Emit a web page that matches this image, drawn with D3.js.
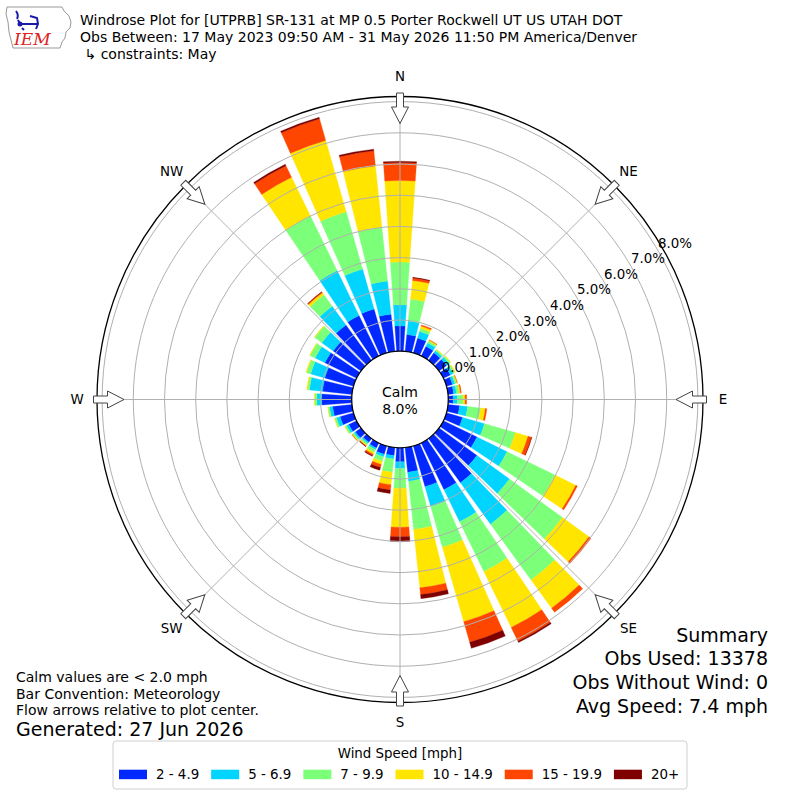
<!DOCTYPE html>
<html lang="en">
<head>
<meta charset="UTF-8">
<title>Windrose Plot</title>
<script src="https://d3js.org/d3.v7.min.js"></script>
<style>
  body { margin: 0; background: #fff; }
  svg text { font-family: "DejaVu Sans", sans-serif; fill: #000; }
</style>
</head>
<body>
<svg id="chart" width="800" height="800"></svg>
<script>
// direction bins (degrees, meteorological) and speed bins
const directions = d3.range(0, 360, 10);
const speedBins = ["2 - 4.9", "5 - 6.9", "7 - 9.9", "10 - 14.9", "15 - 19.9", "20+"];

const spd2to5 = [0.81, 0.55, 0.50, 0.35, 0.30, 0.30, 0.25, 0.20, 0.18, 0.16, 0.37, 0.54,
                 1.20, 1.50, 1.75, 1.67, 1.36, 0.80, 0.45, 0.26, 0.28, 0.18, 0.15, 0.22,
                 0.28, 0.45, 0.62, 0.96, 0.95, 0.96, 1.13, 1.10, 1.40, 1.45, 1.47, 1.20];
const spd5to7 = [0.68, 0.43, 0.22, 0.12, 0.08, 0.10, 0.10, 0.08, 0.09, 0.13, 0.26, 0.73,
                 1.07, 1.29, 1.64, 1.14, 0.66, 0.29, 0.21, 0.11, 0.08, 0.06, 0.05, 0.06,
                 0.08, 0.12, 0.10, 0.16, 0.42, 0.47, 0.35, 0.45, 0.75, 1.60, 1.33, 1.07];
const spd7to10 = [1.37, 0.71, 0.10, 0.07, 0.04, 0.05, 0.06, 0.06, 0.09, 0.19, 0.42, 1.03,
                  1.71, 2.10, 2.21, 1.78, 1.36, 1.55, 0.64, 0.43, 0.15, 0.10, 0.06, 0.05,
                  0.05, 0.06, 0.05, 0.06, 0.06, 0.14, 0.18, 0.28, 0.45, 1.95, 1.91, 1.73];
const spd10to15 = [2.61, 0.60, 0.08, 0.03, 0.02, 0.02, 0.02, 0.02, 0.04, 0.06, 0.15, 0.42,
                   0.74, 1.05, 1.12, 1.99, 2.48, 1.88, 1.25, 0.40, 0.11, 0.06, 0.03, 0.02,
                   0.01, 0.01, 0.01, 0.02, 0.03, 0.02, 0.02, 0.02, 0.08, 1.38, 2.38, 1.98];
const spd15to20 = [0.58, 0.08, 0.04, 0.01, 0.00, 0.00, 0.00, 0.01, 0.03, 0.05, 0.05, 0.12,
                   0.06, 0.08, 0.16, 0.49, 0.69, 0.22, 0.30, 0.17, 0.10, 0.05, 0.02, 0.01,
                   0.00, 0.00, 0.00, 0.00, 0.00, 0.00, 0.00, 0.00, 0.03, 0.41, 0.72, 0.49];
const spd20plus = [0.04, 0.02, 0.00, 0.00, 0.00, 0.00, 0.00, 0.00, 0.00, 0.00, 0.00, 0.01,
                   0.00, 0.00, 0.00, 0.05, 0.20, 0.13, 0.16, 0.11, 0.09, 0.03, 0.01, 0.00,
                   0.00, 0.00, 0.00, 0.00, 0.00, 0.00, 0.00, 0.00, 0.01, 0.05, 0.05, 0.05];

const ringTicks = [0, 1, 2, 3, 4, 5, 6, 7, 8];
const compassLabels = ["N", "NE", "E", "SE", "S", "SW", "W", "NW"];
const calmPct = 8.0;

const titleLines = [
    "Windrose Plot for [UTPRB] SR-131 at MP 0.5 Porter Rockwell UT US UTAH DOT",
    "Obs Between: 17 May 2023 09:50 AM - 31 May 2026 11:50 PM America/Denver",
    " \u21b3 constraints: May"
];
const noteLines = ["Calm values are < 2.0 mph", "Bar Convention: Meteorology", "Flow arrows relative to plot center."];
const generatedText = "Generated: 27 Jun 2026";
const summaryLines = ["Summary", "Obs Used: 13378", "Obs Without Wind: 0", "Avg Speed: 7.4 mph"];

const colors = ["#0028ff", "#00d4ff", "#7cff79", "#ffe500", "#ff4600", "#7f0000"];

const series = [spd2to5, spd5to7, spd7to10, spd10to15, spd15to20, spd20plus];
const rows = directions.map((dir, i) => {
    const row = { dir: dir };
    speedBins.forEach((b, j) => row[b] = series[j][i]);
    return row;
});
const stacked = d3.stack().keys(speedBins)(rows);

const svg = d3.select("#chart");
const cx = 400, cy = 399.5, outerR = 303;
const rScale = d3.scaleLinear().domain([0, 8]).range([48.3, 297.9]);
const rad = d => d * Math.PI / 180;
const halfWidth = rad(4);

const plot = svg.append("g").attr("transform", `translate(${cx},${cy})`);
const arc = d3.arc();

// stacked bars
plot.selectAll("g.layer")
    .data(stacked)
    .join("g")
    .attr("class", "layer")
    .attr("fill", (d, i) => colors[i])
    .attr("stroke", (d, i) => colors[i])
    .attr("stroke-width", 0.3)
    .selectAll("path")
    .data(d => d.filter(s => s[1] - s[0] > 0))
    .join("path")
    .attr("d", s => arc({
        innerRadius: rScale(s[0]),
        outerRadius: rScale(s[1]),
        startAngle: rad(s.data.dir) - halfWidth,
        endAngle: rad(s.data.dir) + halfWidth
    }));

// grid on top of the bars
plot.selectAll("circle.ring")
    .data(ringTicks.slice(1))
    .join("circle")
    .attr("class", "ring")
    .attr("r", d => rScale(d))
    .attr("fill", "none")
    .attr("stroke", "#b0b0b0")
    .attr("stroke-width", 1);

plot.selectAll("line.spoke")
    .data(d3.range(0, 360, 45))
    .join("line")
    .attr("class", "spoke")
    .attr("x1", d => rScale(0) * Math.sin(rad(d)))
    .attr("y1", d => -rScale(0) * Math.cos(rad(d)))
    .attr("x2", d => outerR * Math.sin(rad(d)))
    .attr("y2", d => -outerR * Math.cos(rad(d)))
    .attr("stroke", "#b0b0b0")
    .attr("stroke-width", 1);

plot.append("circle")
    .attr("r", outerR)
    .attr("fill", "none")
    .attr("stroke", "#000")
    .attr("stroke-width", 1.3);

// calm circle
plot.append("circle")
    .attr("r", rScale(0))
    .attr("fill", "#fff")
    .attr("stroke", "#000")
    .attr("stroke-width", 1.3);
plot.append("text").attr("y", -3).attr("text-anchor", "middle")
    .style("font-size", "14px").text("Calm");
plot.append("text").attr("y", 14).attr("text-anchor", "middle")
    .style("font-size", "14px").text(d3.format(".1f")(calmPct) + "%");

// radial tick labels
const labelAngle = rad(60);
plot.selectAll("text.rtick")
    .data(ringTicks)
    .join("text")
    .attr("class", "rtick")
    .attr("x", d => rScale(d) * Math.sin(labelAngle))
    .attr("y", d => -rScale(d) * Math.cos(labelAngle) - 3)
    .style("font-size", "13.4px")
    .text(d => d3.format(".1f")(d) + "%");

// flow arrows pointing at the centre
const arrowShape = [[306.5, -3.5], [292.5, -3.5], [292.5, -8.5], [276, 0], [292.5, 8.5], [292.5, 3.5], [306.5, 3.5]];
plot.selectAll("path.arrow")
    .data(d3.range(0, 360, 45))
    .join("path")
    .attr("class", "arrow")
    .attr("d", "M" + arrowShape.map(p => `${p[1]},${-p[0]}`).join("L") + "Z")
    .attr("transform", d => `rotate(${d})`)
    .attr("fill", "#fff")
    .attr("stroke", "#444")
    .attr("stroke-width", 1);

// compass labels
plot.selectAll("text.compass")
    .data(compassLabels)
    .join("text")
    .attr("class", "compass")
    .attr("x", (d, i) => 323 * Math.sin(rad(i * 45)))
    .attr("y", (d, i) => -323 * Math.cos(rad(i * 45)))
    .attr("text-anchor", "middle")
    .attr("dy", "0.36em")
    .style("font-size", "13.4px")
    .text(d => d);

// title
svg.selectAll("text.title")
    .data(titleLines)
    .join("text")
    .attr("class", "title")
    .attr("x", 80)
    .attr("y", (d, i) => 25 + i * 17)
    .attr("xml:space", "preserve")
    .style("font-size", "14px")
    .style("white-space", "pre")
    .text(d => d);

// IEM logo
const logo = svg.append("g");
logo.append("path")
    .attr("d", "M7,7 L62,7 L64,11 L69,16 L71,22 L70,28 L66,32 L65,38 L62,42 L60,48 L13,48 L11,40 L9,32 L8,22 L6,14 Z")
    .attr("fill", "#fff")
    .attr("stroke", "#999")
    .attr("stroke-width", 1);
logo.append("path")
    .attr("d", "M16,11 Q19,15 17,19 M18,20 L20,24 M20,24 L38,24 M30,16 L37,18 L38,24 L36,29 M22,28 L24,30")
    .attr("fill", "none")
    .attr("stroke", "#1a1aa8")
    .attr("stroke-width", 2);
logo.append("circle").attr("cx", 20).attr("cy", 24).attr("r", 2.5).attr("fill", "#1a1aa8");
logo.append("text")
    .attr("x", 14).attr("y", 45)
    .style("font-family", "'DejaVu Serif', 'Liberation Serif', serif")
    .style("font-style", "italic")
    .style("font-size", "17px")
    .style("fill", "#d22")
    .text("IEM");

// notes bottom left
svg.selectAll("text.note")
    .data(noteLines)
    .join("text")
    .attr("class", "note")
    .attr("x", 16)
    .attr("y", (d, i) => 682 + i * 16.5)
    .style("font-size", "14px")
    .text(d => d);
svg.append("text")
    .attr("x", 16).attr("y", 735.5)
    .style("font-size", "19px")
    .text(generatedText);

// summary bottom right
svg.selectAll("text.summary")
    .data(summaryLines)
    .join("text")
    .attr("class", "summary")
    .attr("x", 768)
    .attr("y", (d, i) => 641.5 + i * 23.7)
    .attr("text-anchor", "end")
    .style("font-size", "19px")
    .text(d => d);

// legend
const legend = svg.append("g");
legend.append("rect")
    .attr("x", 113).attr("y", 741)
    .attr("width", 574).attr("height", 48)
    .attr("rx", 3)
    .attr("fill", "#fff")
    .attr("stroke", "#d0d0d0");
legend.append("text")
    .attr("x", 400).attr("y", 758)
    .attr("text-anchor", "middle")
    .style("font-size", "13.4px")
    .text("Wind Speed [mph]");
let lx = 119;
speedBins.forEach((b, i) => {
    legend.append("rect")
        .attr("x", lx).attr("y", 769.7)
        .attr("width", 28).attr("height", 9.5)
        .attr("fill", colors[i]);
    const t = legend.append("text")
        .attr("x", lx + 37).attr("y", 779)
        .style("font-size", "13.4px")
        .text(b);
    lx += 37 + t.node().getComputedTextLength() + 12;
});
</script>
</body>
</html>
